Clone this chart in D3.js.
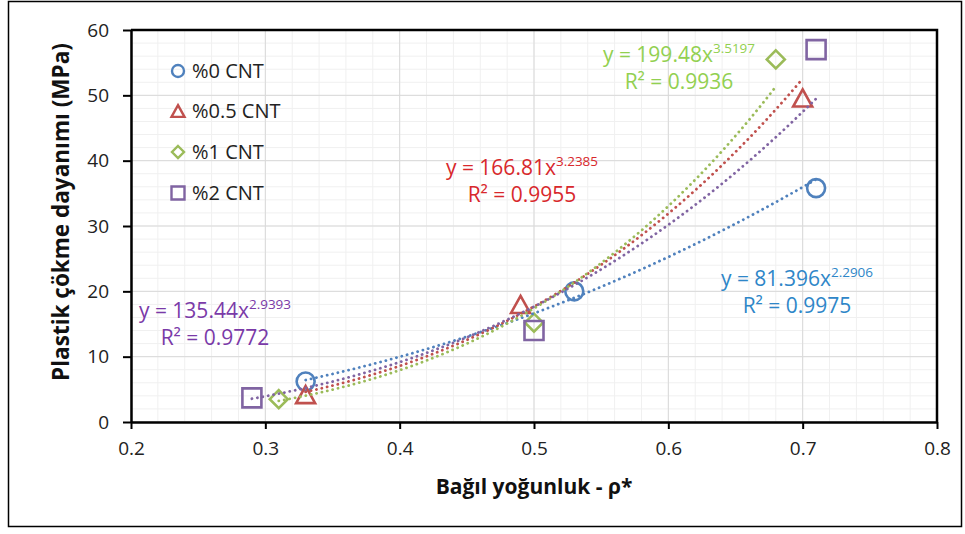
<!DOCTYPE html>
<html>
<head>
<meta charset="utf-8">
<script src="https://cdn.jsdelivr.net/npm/d3@7"></script>
<style>
  html, body { margin: 0; padding: 0; background: #fff; }
  svg { display: block; font-family: "Open Sans", "DejaVu Sans", sans-serif; }
</style>
</head>
<body>
<svg id="chart" width="965" height="534"></svg>
<script>
// Series (relative density vs plastic collapse strength)
const seriesNames = ["%0 CNT", "%0.5 CNT", "%1 CNT", "%2 CNT"];
const seriesX = [
  [0.33, 0.53, 0.71],
  [0.33, 0.49, 0.70],
  [0.31, 0.50, 0.68],
  [0.29, 0.50, 0.71]
];
const seriesY = [
  [6.2, 20.0, 35.8],
  [4.2, 18.0, 49.6],
  [3.5, 15.2, 55.5],
  [3.7, 14.0, 57.0]
];
// Power trendlines y = a * x^b with their R² values
const fitA = [81.396, 166.81, 199.48, 135.44];
const fitB = [2.2906, 3.2385, 3.5197, 2.9393];
const fitR2 = [0.9975, 0.9955, 0.9936, 0.9772];
const fitAText = ["81.396", "166.81", "199.48", "135.44"];
const fitBText = ["2.2906", "3.2385", "3.5197", "2.9393"];

const xTicks = [0.2, 0.3, 0.4, 0.5, 0.6, 0.7, 0.8];
const yTicks = [0, 10, 20, 30, 40, 50, 60];

const markerColors = ["#4f81bd", "#c0504d", "#9bbb59", "#8064a2"];
const labelColors = ["#2e86c8", "#d8282c", "#92d050", "#7a3aa8"];
const markerTypes = ["circle", "triangle", "diamond", "square"];
// where each trendline equation sits (centre x, first baseline y)
const labelPos = [[797, 286], [522, 175], [679, 62], [215, 318]];

const svg = d3.select("#chart");
const plot = { left: 131, right: 937, top: 30, bottom: 422 };

const x = d3.scaleLinear().domain([0.2, 0.8]).range([plot.left, plot.right]);
const y = d3.scaleLinear().domain([0, 60]).range([plot.bottom, plot.top]);

// outer frame
svg.append("rect")
  .attr("x", 8.5).attr("y", 1.5).attr("width", 953).attr("height", 525)
  .attr("fill", "#fff").attr("stroke", "#000").attr("stroke-width", 1.5);

// minor gridlines
const gMinor = svg.append("g");
gMinor.selectAll("line.vx").data(d3.range(0.2, 0.8001, 0.02)).join("line")
  .attr("x1", d => x(d)).attr("x2", d => x(d))
  .attr("y1", plot.top).attr("y2", plot.bottom)
  .attr("stroke", "#f0f0f0").attr("stroke-width", 1);
gMinor.selectAll("line.hy").data(d3.range(0, 60.001, 2)).join("line")
  .attr("y1", d => y(d)).attr("y2", d => y(d))
  .attr("x1", plot.left).attr("x2", plot.right)
  .attr("stroke", "#f0f0f0").attr("stroke-width", 1);

// major gridlines
const gMajor = svg.append("g");
gMajor.selectAll("line.vx").data(xTicks).join("line")
  .attr("x1", d => x(d)).attr("x2", d => x(d))
  .attr("y1", plot.top).attr("y2", plot.bottom)
  .attr("stroke", "#d9d9d9").attr("stroke-width", 1);
gMajor.selectAll("line.hy").data(yTicks).join("line")
  .attr("y1", d => y(d)).attr("y2", d => y(d))
  .attr("x1", plot.left).attr("x2", plot.right)
  .attr("stroke", "#d9d9d9").attr("stroke-width", 1);

// plot border (top / right)
svg.append("path")
  .attr("d", `M${plot.left},${plot.top}H${plot.right}V${plot.bottom}`)
  .attr("fill", "none").attr("stroke", "#000").attr("stroke-width", 2.5);

// axes
const xAxis = svg.append("g").attr("transform", `translate(0,${plot.bottom})`)
  .call(d3.axisBottom(x).tickValues(xTicks).tickFormat(d3.format(".1f")).tickSize(7).tickSizeOuter(0));
const yAxis = svg.append("g").attr("transform", `translate(${plot.left},0)`)
  .call(d3.axisLeft(y).tickValues(yTicks).tickFormat(d3.format("d")).tickSize(8).tickSizeOuter(0));
[xAxis, yAxis].forEach(g => {
  g.select(".domain").attr("stroke", "#000").attr("stroke-width", 2.5);
  g.selectAll(".tick line").attr("stroke", "#000").attr("stroke-width", 2);
  g.selectAll(".tick text").attr("fill", "#222").attr("font-size", 19)
    .attr("font-family", "'Open Sans', sans-serif");
});
xAxis.selectAll(".tick text").attr("y", 14).attr("dy", "1.0em");
yAxis.selectAll(".tick text").attr("x", -22);

// axis titles
svg.append("text")
  .attr("x", x(0.5)).attr("y", 494)
  .attr("text-anchor", "middle").attr("font-weight", "bold").attr("font-size", 21)
  .attr("fill", "#111").text("Bağıl yoğunluk - ρ*");
svg.append("text")
  .attr("transform", `translate(69,212) rotate(-90)`)
  .attr("text-anchor", "middle").attr("font-weight", "bold").attr("font-size", 22.5)
  .attr("fill", "#111").text("Plastik çökme dayanımı (MPa)");

// marker shapes
function markerPath(type, s) {
  const h = s / 2;
  if (type === "circle") {
    return d3.arc()({ innerRadius: 0, outerRadius: h, startAngle: 0, endAngle: 2 * Math.PI });
  }
  if (type === "triangle") {
    const th = s * 0.9;
    return `M0,${-th / 2}L${h},${th / 2}L${-h},${th / 2}Z`;
  }
  if (type === "diamond") {
    return `M0,${-h}L${h},0L0,${h}L${-h},0Z`;
  }
  return `M${-h},${-h}H${h}V${h}H${-h}Z`;
}
const markerSize = [18, 19, 18, 19];

// data markers
seriesNames.forEach((name, i) => {
  const pts = seriesX[i].map((v, k) => [v, seriesY[i][k]]);
  svg.append("g").selectAll("path").data(pts).join("path")
    .attr("transform", d => `translate(${x(d[0])},${y(d[1])})`)
    .attr("d", markerPath(markerTypes[i], markerSize[i]))
    .attr("fill", "none")
    .attr("stroke", markerColors[i])
    .attr("stroke-width", 2.6)
    .attr("stroke-linejoin", "miter");
});

// dotted power trendlines spanning each series' x range
const line = d3.line().x(d => x(d[0])).y(d => y(d[1]));
seriesNames.forEach((name, i) => {
  const x0 = d3.min(seriesX[i]), x1 = d3.max(seriesX[i]);
  const pts = d3.range(0, 121).map(k => {
    const xv = x0 + (x1 - x0) * k / 120;
    return [xv, fitA[i] * Math.pow(xv, fitB[i])];
  });
  svg.append("path").datum(pts)
    .attr("d", line)
    .attr("fill", "none")
    .attr("stroke", markerColors[i])
    .attr("stroke-width", 2.8)
    .attr("stroke-linecap", "round")
    .attr("stroke-dasharray", "0.1 5.4");
});

// trendline equations
seriesNames.forEach((name, i) => {
  const [cx, by] = labelPos[i];
  const t1 = svg.append("text")
    .attr("x", cx).attr("y", by).attr("text-anchor", "middle")
    .attr("font-size", 21).attr("fill", labelColors[i]);
  t1.append("tspan").text(`y = ${fitAText[i]}x`);
  t1.append("tspan").attr("font-size", 13.5).attr("dy", -9).text(fitBText[i]);
  svg.append("text")
    .attr("x", cx).attr("y", by + 27).attr("text-anchor", "middle")
    .attr("font-size", 21).attr("fill", labelColors[i])
    .text(`R² = ${fitR2[i].toFixed(4)}`);
});

// legend
const legendY = [71, 111, 152, 193];
const legendSize = [12, 13, 12, 13];
seriesNames.forEach((name, i) => {
  const g = svg.append("g").attr("transform", `translate(178,${legendY[i]})`);
  g.append("path")
    .attr("d", markerPath(markerTypes[i], legendSize[i]))
    .attr("fill", "none").attr("stroke", markerColors[i]).attr("stroke-width", 2.4);
  g.append("text").attr("x", 14).attr("y", 7)
    .attr("font-size", 20).attr("fill", "#222").text(name);
});
</script>
</body>
</html>
